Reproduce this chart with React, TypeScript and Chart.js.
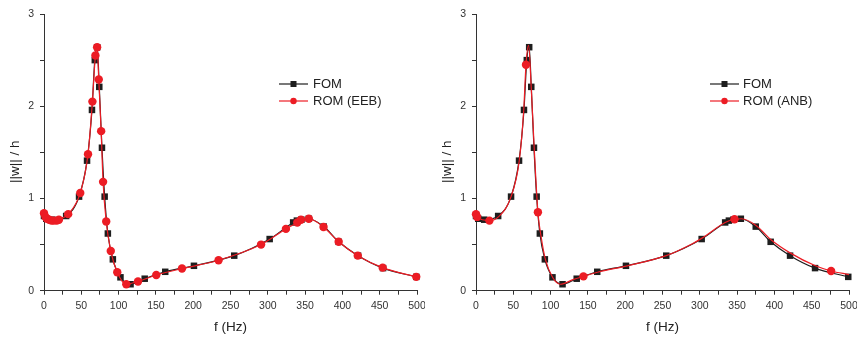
import React, { useEffect, useRef } from 'react';
import { Chart, registerables } from 'chart.js';

Chart.register(...registerables);

// ---------- data ----------
const FOM_F = [0, 3, 11, 29.7, 47, 57.7, 64.3, 68.1, 71.3, 74.1, 77.7, 81.3, 85.6, 92.3, 102.5, 116, 135, 162.5, 201, 255, 302.5, 334, 339, 345, 355, 375, 395, 421, 454.5, 499];
const FOM_V = [0.81, 0.78, 0.77, 0.81, 1.02, 1.41, 1.96, 2.5, 2.64, 2.21, 1.55, 1.02, 0.62, 0.34, 0.145, 0.07, 0.13, 0.205, 0.27, 0.38, 0.56, 0.74, 0.76, 0.77, 0.78, 0.695, 0.53, 0.38, 0.245, 0.15];

const EEB_F = [0, 2, 4, 7, 10, 13, 17, 20, 32.4, 48.6, 59, 64.9, 68.9, 71.2, 73.4, 76.6, 79.2, 83.4, 89.5, 98.2, 110.3, 126, 150.5, 185, 234, 291, 324.3, 339.5, 344.4, 355, 374.7, 395, 420.6, 454, 499];
const EEB_V = [0.84, 0.8, 0.78, 0.77, 0.76, 0.76, 0.76, 0.77, 0.83, 1.06, 1.48, 2.05, 2.55, 2.64, 2.29, 1.73, 1.18, 0.75, 0.43, 0.2, 0.07, 0.1, 0.17, 0.24, 0.33, 0.5, 0.67, 0.74, 0.77, 0.78, 0.69, 0.53, 0.38, 0.25, 0.15];

const ANB_F = [0, 1.5, 18, 30, 47, 58, 64, 67, 70.5, 74, 78, 83, 87, 93, 103, 113, 130, 144, 163, 203, 255, 290, 303, 334, 346.5, 356, 375, 395, 421, 455, 476, 500];
const ANB_V = [0.83, 0.8, 0.76, 0.8, 1.02, 1.41, 1.96, 2.45, 2.66, 2.21, 1.55, 0.85, 0.6, 0.34, 0.14, 0.07, 0.12, 0.155, 0.2, 0.27, 0.38, 0.51, 0.57, 0.74, 0.775, 0.78, 0.71, 0.555, 0.41, 0.27, 0.214, 0.175];
const ANB_MARKED = [1, 1, 1, 0, 0, 0, 0, 1, 0, 0, 0, 1, 0, 0, 0, 0, 0, 1, 0, 0, 0, 0, 0, 0, 1, 0, 0, 0, 0, 0, 1, 0];

const X_LABELS = [0, 50, 100, 150, 200, 250, 300, 350, 400, 450, 500];
const Y_LABELS = [0, 1, 2, 3];

const FONT = "'Liberation Sans', Arial, Helvetica, sans-serif";
const BLACK = '#1e1e1e';
const RED = '#ec1c24';
const AXIS = '#333333';

const toPts = (f: number[], v: number[]) => f.map((x, i) => ({ x, y: v[i] }));

const lineLegend = {
  id: 'lineLegend',
  afterDraw(chart: any) {
    const o = chart.options.plugins.lineLegend;
    if (!o) return;
    const ctx = chart.ctx;
    ctx.save();
    chart.data.datasets.forEach((ds: any, i: number) => {
      const y = o.y + i * o.rowH;
      ctx.strokeStyle = ds.borderColor;
      ctx.lineWidth = 1.2;
      ctx.beginPath();
      ctx.moveTo(o.x, y);
      ctx.lineTo(o.x + o.len, y);
      ctx.stroke();
      const cx = o.x + o.len / 2;
      ctx.fillStyle = ds.borderColor;
      if (ds.pointStyle === 'rect') {
        ctx.fillRect(cx - 3, y - 3, 6, 6);
      } else {
        ctx.beginPath();
        ctx.arc(cx, y, 3.2, 0, Math.PI * 2);
        ctx.fill();
      }
      ctx.fillStyle = '#222';
      ctx.font = `13px ${FONT}`;
      ctx.textBaseline = 'middle';
      ctx.textAlign = 'left';
      ctx.fillText(ds.label, o.x + o.len + o.gap, y + 0.5);
    });
    ctx.restore();
  },
};

function makeConfig(romLabel: string, romF: number[], romV: number[], marked: number[] | null, legend: any, padRight: number): any {
  return {
    type: 'line',
    data: {
      datasets: [
        {
          label: 'FOM',
          data: toPts(FOM_F, FOM_V),
          borderColor: BLACK,
          backgroundColor: BLACK,
          borderWidth: 1.2,
          pointStyle: 'rect',
          pointRadius: 4.6,
          pointBorderWidth: 0,
          pointBackgroundColor: BLACK,
          cubicInterpolationMode: 'monotone',
          clip: false,
          order: 1,
        },
        {
          label: romLabel,
          data: toPts(romF, romV),
          borderColor: RED,
          backgroundColor: RED,
          borderWidth: 1.2,
          pointStyle: 'circle',
          pointRadius: marked ? (c: any) => (marked[c.dataIndex] ? 4.2 : 0) : 4.2,
          pointBorderWidth: 0,
          pointBackgroundColor: RED,
          cubicInterpolationMode: 'monotone',
          clip: false,
          order: 0,
        },
      ],
    },
    options: {
      animation: false,
      responsive: false,
      devicePixelRatio: 1,
      layout: { padding: { top: 14, right: padRight, left: 0, bottom: 0 } },
      plugins: {
        legend: { display: false },
        tooltip: { enabled: false },
        lineLegend: legend,
      },
      elements: { point: { hoverRadius: 4.2 } },
      scales: {
        x: {
          type: 'linear',
          position: 'bottom',
          min: 0,
          max: 500,
          afterFit: (s: any) => { s.height = 46.3; s.paddingLeft = 0; s.paddingRight = 0; },
          ticks: {
            stepSize: 25,
            autoSkip: false,
            maxRotation: 0,
            padding: 5,
            color: AXIS,
            font: { family: FONT, size: 10.5 },
            callback: (v: any) => (X_LABELS.includes(Number(v)) ? String(v) : ''),
          },
          grid: { display: true, drawOnChartArea: false, drawTicks: true, tickLength: 4, color: AXIS },
          border: { display: true, color: AXIS, width: 1 },
          title: {
            display: true,
            text: 'f (Hz)',
            color: '#222',
            font: { family: FONT, size: 13.5 },
            padding: { top: 0, bottom: 2 },
          },
        },
        y: {
          type: 'linear',
          position: 'left',
          min: 0,
          max: 3,
          afterFit: (s: any) => { s.width = 44; s.paddingTop = 0; s.paddingBottom = 0; },
          ticks: {
            stepSize: 0.5,
            autoSkip: false,
            padding: 6,
            color: AXIS,
            font: { family: FONT, size: 10.5 },
            callback: (v: any) => (Y_LABELS.includes(Number(v)) ? String(v) : ''),
          },
          grid: { display: true, drawOnChartArea: false, drawTicks: true, tickLength: 4, color: AXIS },
          border: { display: true, color: AXIS, width: 1 },
          title: {
            display: true,
            text: '||w|| / h     ',
            color: '#222',
            font: { family: FONT, size: 13.5 },
            padding: { top: 7.5, bottom: 0 },
          },
        },
      },
    },
    plugins: [lineLegend],
  };
}

function Panel(props: { config: any; left: number; width: number }) {
  const ref = useRef<HTMLCanvasElement | null>(null);
  useEffect(() => {
    if (!ref.current) return;
    const chart = new Chart(ref.current, props.config);
    return () => chart.destroy();
  }, []);
  return (
    <div style={{ position: 'absolute', left: props.left, top: 0, width: props.width, height: 337 }}>
      <canvas ref={ref} width={props.width} height={337} style={{ display: 'block' }} />
    </div>
  );
}

export default function App() {
  const leftCfg = makeConfig('ROM (EEB)', EEB_F, EEB_V, null, { x: 279, y: 84, rowH: 17, len: 29, gap: 5 }, 8);
  const rightCfg = makeConfig('ROM (ANB)', ANB_F, ANB_V, ANB_MARKED, { x: 278, y: 84, rowH: 17, len: 29, gap: 4 }, 11);
  return (
    <div style={{ position: 'absolute', left: 0, top: 0, width: 857, height: 337, background: '#fff', overflow: 'hidden' }}>
      <Panel config={leftCfg} left={0} width={425} />
      <Panel config={rightCfg} left={432} width={428} />
    </div>
  );
}
